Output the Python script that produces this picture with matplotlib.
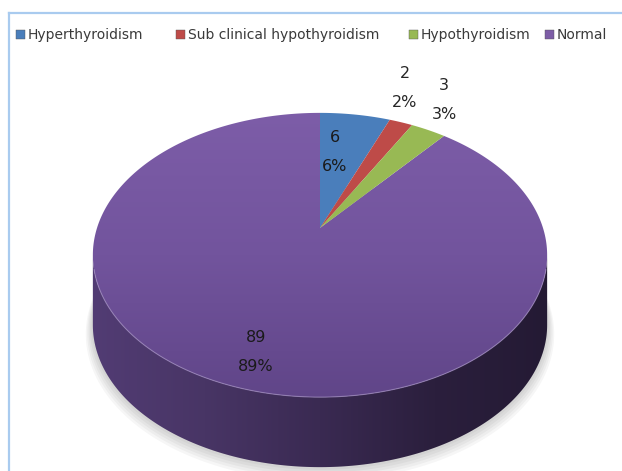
import numpy as np
import matplotlib
matplotlib.use("Agg")
import matplotlib.pyplot as plt
from matplotlib.patches import Polygon, Rectangle
from matplotlib.colors import LinearSegmentedColormap

# --- data ---
categories = ["Hyperthyroidism", "Sub clinical hypothyroidism", "Hypothyroidism", "Normal"]
counts = [6, 2, 3, 89]
colors = ["#4A7EBB", "#BE4B48", "#98B954", "#7D5DA6"]

# label anchors (pixel coords) for "value\npercent"
label_pos = [(335, 152), (405, 88), (444, 100), (256, 352)]
label_col = ["#1a1a1a", "#262626", "#262626", "#1a1a1a"]

# --- 3d pie geometry (pixel space, y down) ---
CX, CY = 320, 228      # projected pie centre
A, B = 223, 137        # radii before perspective
K = 0.19               # perspective strength
DEPTH = 70             # thickness of the pie


def proj(theta, r=1.0, drop=0.0):
    # theta measured clockwise from 12 o'clock
    u = r * np.sin(theta)
    v = r * np.cos(theta)
    w = 1 + K * v
    return CX + A * u / w, CY - B * v / w + drop


fig = plt.figure(figsize=(6.22, 4.71), dpi=100)
ax = fig.add_axes([0, 0, 1, 1])
ax.set_xlim(0, 622)
ax.set_ylim(471, 0)
ax.axis("off")

# chart frame
ax.plot([8.5, 8.5], [480, 12.5], color="#A9CBEF", lw=1.6)
ax.plot([8.5, 640], [12.5, 12.5], color="#A9CBEF", lw=1.6)

total = float(sum(counts))
edges = 2 * np.pi * np.concatenate([[0], np.cumsum(counts)]) / total

# soft shadow under the pie
t_all = np.linspace(0, 2 * np.pi, 300)
for i in range(6):
    sx, sy = proj(t_all, r=1.0 + 0.006 * i, drop=DEPTH + 1.5 * i)
    ax.add_patch(Polygon(np.column_stack([sx, sy]), closed=True,
                         facecolor="#000000", alpha=0.035, edgecolor="none", zorder=0.5))

# side wall (front part, between the silhouette extremes)
t1 = np.arccos(-K)
t2 = 2 * np.pi - t1
ts = np.linspace(t1, t2, 200)
x_top, y_top = proj(ts)
x_bot, y_bot = proj(ts[::-1], drop=DEPTH)
side = Polygon(np.column_stack([np.r_[x_top, x_bot], np.r_[y_top, y_bot]]),
               closed=True, facecolor="none", edgecolor="none", zorder=1)
ax.add_patch(side)
side_cmap = LinearSegmentedColormap.from_list(
    "side", ["#523C74", "#483565", "#3A2A52", "#2B1F3D", "#241A34"])
grad = np.linspace(0, 1, 256).reshape(1, -1)
im = ax.imshow(grad, cmap=side_cmap, extent=(CX - 230, CX + 230, 480, 150),
               aspect="auto", zorder=1, interpolation="bilinear")
im.set_clip_path(side)

# top wedges
top_cmap = LinearSegmentedColormap.from_list("top", ["#7D5DA8", "#72549D", "#604588"])
for i, (c, col) in enumerate(zip(categories, colors)):
    th = np.linspace(edges[i], edges[i + 1], max(int(counts[i] * 4), 8))
    wx, wy = proj(th)
    pts = np.column_stack([np.r_[CX, wx], np.r_[CY, wy]])
    if c == "Normal":
        wedge = Polygon(pts, closed=True, facecolor="none", edgecolor="none", zorder=2)
        ax.add_patch(wedge)
        vgrad = np.linspace(0, 1, 256).reshape(-1, 1)
        im2 = ax.imshow(vgrad, cmap=top_cmap, extent=(CX - 230, CX + 230, 400, 110),
                        aspect="auto", zorder=2, interpolation="bilinear")
        im2.set_clip_path(wedge)
    else:
        ax.add_patch(Polygon(pts, closed=True, facecolor=col, edgecolor="none", zorder=3))

# light rim along the front edge
tr = np.linspace(t1 + 0.1, t2 - 0.1, 200)
rx, ry = proj(tr)
ax.plot(rx, ry, color="#A08BC0", lw=0.8, alpha=0.7, zorder=4)

# keep limits after imshow
ax.set_xlim(0, 622)
ax.set_ylim(471, 0)

# data labels
for n, (lx, ly), lc in zip(counts, label_pos, label_col):
    pct = 100.0 * n / total
    ax.text(lx, ly, f"{n}\n{pct:.0f}%", ha="center", va="center", fontsize=11.5,
            color=lc, linespacing=2.15, zorder=5)

# legend
legend_x = [20, 180, 413, 549]
for c, col, lx in zip(categories, colors, legend_x):
    ax.add_patch(Rectangle((lx - 4.5, 30), 9, 9, facecolor=col, edgecolor="#555555",
                           lw=0.3, zorder=5))
    ax.text(lx + 8, 35, c, ha="left", va="center", fontsize=10, color="#3a3a3a", zorder=5)

fig.savefig("out.png", dpi=100)
